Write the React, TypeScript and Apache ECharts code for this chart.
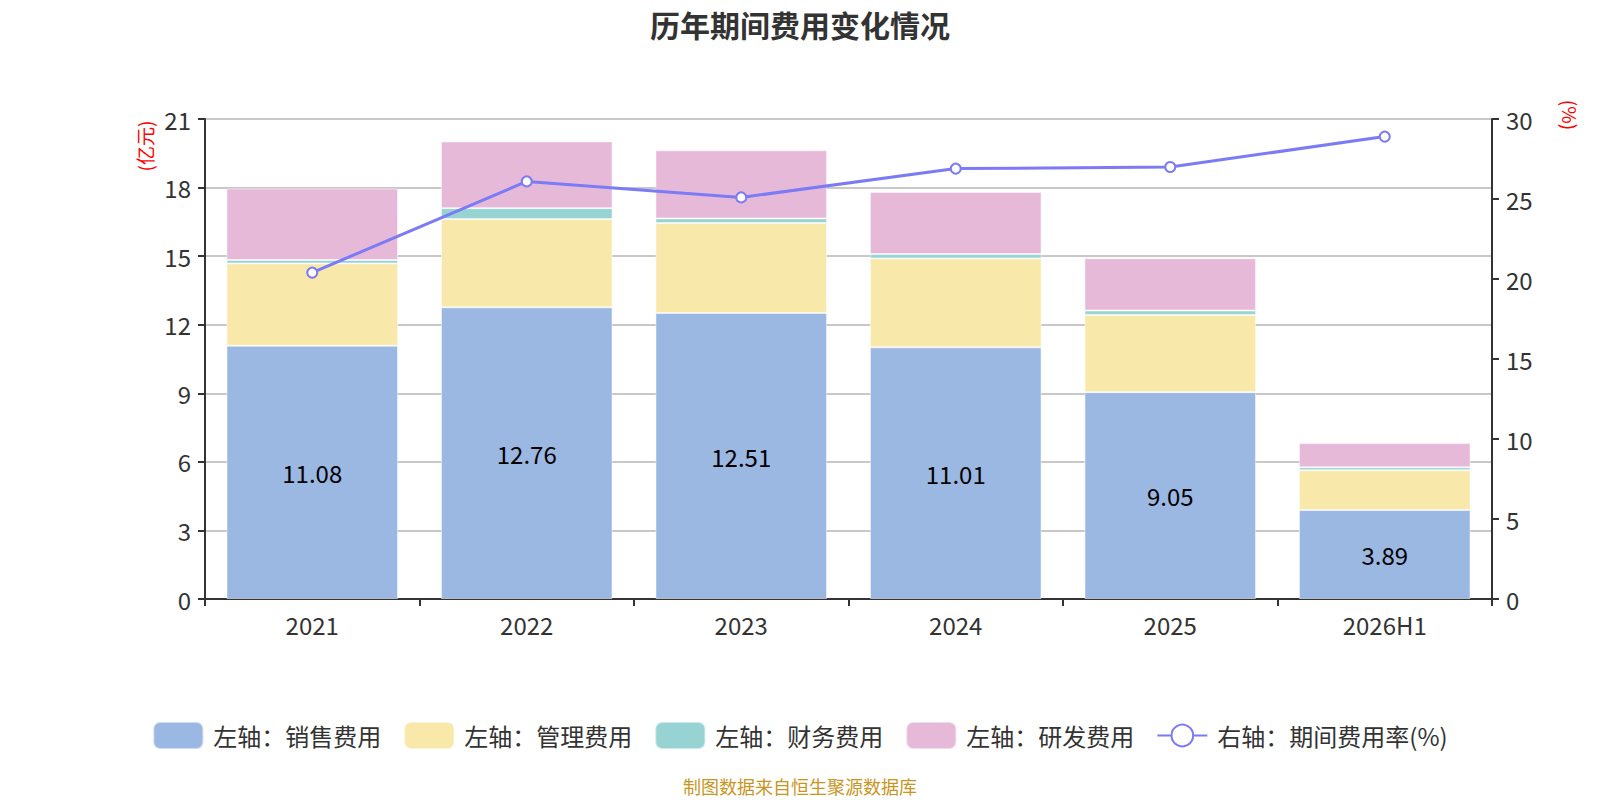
import React, { useEffect, useRef } from "react";
import * as echarts from "echarts";

const years = ["2021", "2022", "2023", "2024", "2025", "2026H1"];
const sales = [11.08, 12.76, 12.51, 11.01, 9.05, 3.89];
const admin = [3.6, 3.86, 3.94, 3.89, 3.38, 1.74];
const finance = [0.15, 0.48, 0.2, 0.19, 0.19, 0.13];
const rnd = [3.13, 2.92, 2.98, 2.72, 2.29, 1.06];
const expenseRate = [20.4, 26.1, 25.1, 26.9, 27.0, 28.9];

const FONT = "'Noto Sans CJK SC', 'Noto Sans', sans-serif";

const App = () => {
  const chartRef = useRef<HTMLDivElement>(null);
  useEffect(() => {
    const chart = echarts.init(chartRef.current as HTMLDivElement, undefined, {
      renderer: "svg",
    });

    const barSeries = (name: string, data: number[], color: string, label = false) => ({
      name,
      type: "bar",
      stack: "cost",
      yAxisIndex: 0,
      barWidth: "80%",
      data,
      itemStyle: { color, borderColor: "rgba(255,255,255,0.5)", borderWidth: 1 },
      label: label
        ? { show: true, position: "inside", color: "#000", fontSize: 24, fontFamily: FONT }
        : { show: false },
    });

    const option = {
      animation: false,
      textStyle: { fontFamily: FONT },
      title: {
        text: "历年期间费用变化情况",
        left: "center",
        top: 4,
        textStyle: { fontSize: 30, fontWeight: "bold", color: "#333", fontFamily: FONT },
      },
      grid: { left: 205, right: 108, top: 119, bottom: 201 },
      legend: {
        top: 716,
        left: "center",
        itemWidth: 50,
        itemHeight: 27,
        itemGap: 22,
        textStyle: { fontSize: 24, color: "#333", fontFamily: FONT, padding: [0, 0, 0, 5] },
        data: [
          { name: "左轴：销售费用", icon: "roundRect" },
          { name: "左轴：管理费用", icon: "roundRect" },
          { name: "左轴：财务费用", icon: "roundRect" },
          { name: "左轴：研发费用", icon: "roundRect" },
          { name: "右轴：期间费用率(%)" },
        ],
      },
      xAxis: {
        type: "category",
        data: years,
        axisLine: { lineStyle: { color: "#333", width: 2 } },
        axisTick: { show: true, length: 7, lineStyle: { color: "#333", width: 2 } },
        axisLabel: { fontSize: 24, color: "#333", margin: 13 },
      },
      yAxis: [
        {
          type: "value",
          min: 0,
          max: 21,
          interval: 3,
          axisLine: { show: true, lineStyle: { color: "#333", width: 2 } },
          axisTick: { show: true, length: 7, lineStyle: { color: "#333", width: 2 } },
          axisLabel: { fontSize: 24, color: "#333", margin: 14 },
          splitLine: { lineStyle: { color: "#c8c8c8", width: 2 } },
        },
        {
          type: "value",
          min: 0,
          max: 30,
          interval: 5,
          axisLine: { show: true, lineStyle: { color: "#333", width: 2 } },
          axisTick: { show: true, length: 7, lineStyle: { color: "#333", width: 2 } },
          axisLabel: { fontSize: 24, color: "#333", margin: 14 },
          splitLine: { show: false },
        },
      ],
      graphic: [
        {
          type: "text",
          x: 144,
          y: 146,
          rotation: Math.PI / 2,
          style: {
            text: "(亿元)",
            fill: "#f00",
            fontSize: 19,
            fontFamily: FONT,
            textAlign: "center",
            textVerticalAlign: "middle",
          },
        },
        {
          type: "text",
          x: 1570,
          y: 115,
          rotation: -Math.PI / 2,
          style: {
            text: "(%)",
            fill: "#f00",
            fontSize: 19,
            fontFamily: FONT,
            textAlign: "center",
            textVerticalAlign: "middle",
          },
        },
        {
          type: "text",
          left: "center",
          top: 777,
          style: {
            text: "制图数据来自恒生聚源数据库",
            fill: "#c8961e",
            fontSize: 18,
            fontFamily: FONT,
          },
        },
      ],
      series: [
        barSeries("左轴：销售费用", sales, "#9bb8e2", true),
        barSeries("左轴：管理费用", admin, "#f8e8a9"),
        barSeries("左轴：财务费用", finance, "#97d3d3"),
        barSeries("左轴：研发费用", rnd, "#e7b9d8"),
        {
          name: "右轴：期间费用率(%)",
          type: "line",
          yAxisIndex: 1,
          data: expenseRate,
          symbol: "emptyCircle",
          symbolSize: 10,
          lineStyle: { color: "#7b7bf5", width: 3 },
          itemStyle: { color: "#7b7bf5", borderWidth: 2 },
        },
      ],
    };
    chart.setOption(option);

    return () => {
      chart.dispose();
    };
  }, []);

  return (
    <div
      ref={chartRef}
      style={{ position: "fixed", left: 0, top: 0, width: "1600px", height: "800px", background: "#fff" }}
    />
  );
};

export default App;
